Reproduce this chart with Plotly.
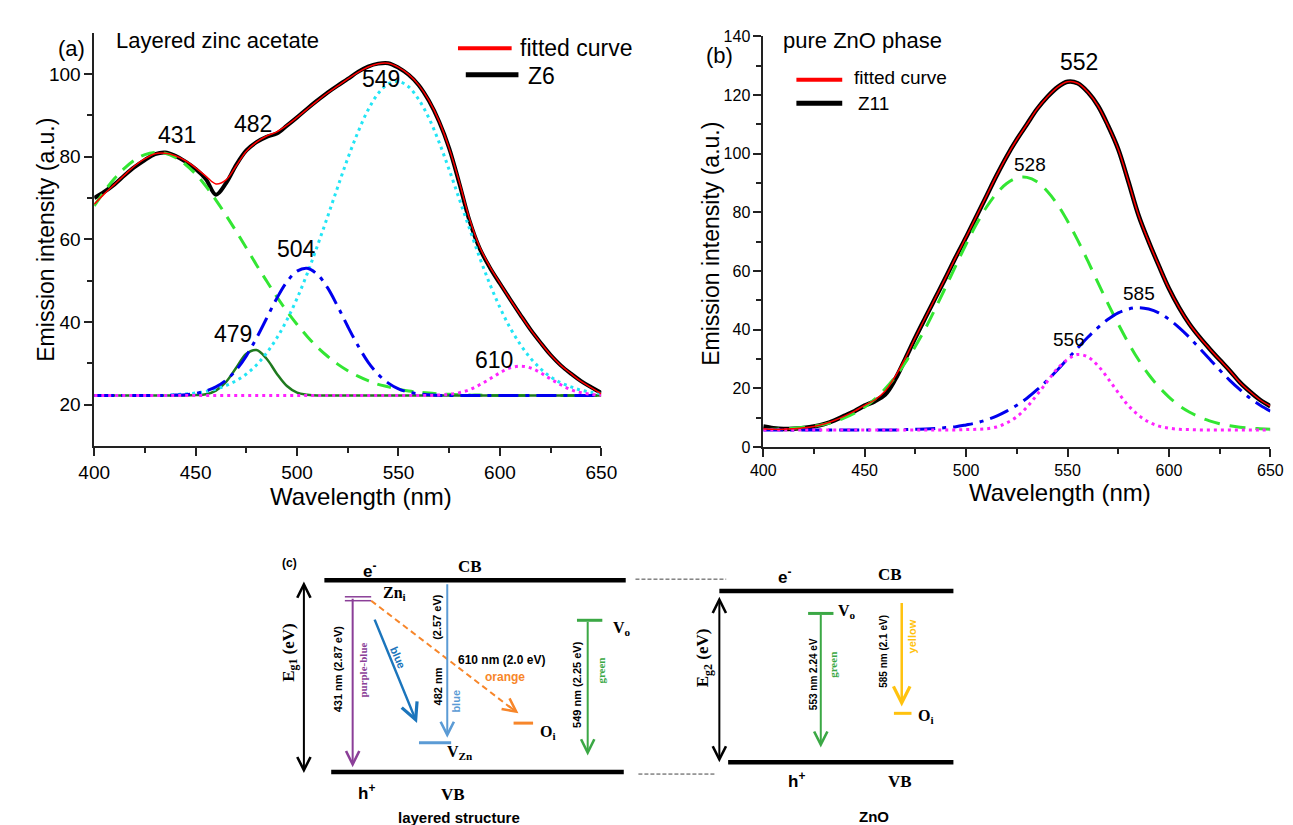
import plotly.graph_objects as go

W, H = 1293, 825
SANS = "Liberation Sans, Arial, sans-serif"
SERIF = "Liberation Serif, Times New Roman, serif"

# wavelength grid (nm)
wl = [400, 405, 410, 415, 420, 425, 430, 435, 440, 445,
      450, 455, 460, 465, 470, 475, 480, 485, 490, 495,
      500, 505, 510, 515, 520, 525, 530, 535, 540, 545,
      550, 555, 560, 565, 570, 575, 580, 585, 590, 595,
      600, 605, 610, 615, 620, 625, 630, 635, 640, 645, 650]

# (a) layered zinc acetate, sample Z6
z6 = [70.0, 71.5, 73.3, 75.5, 77.5, 79.2, 80.6, 81.0, 80.2, 78.8,
      77.0, 74.6, 70.8, 73.6, 78.0, 81.5, 83.5, 84.8, 85.6, 87.5,
      89.5, 91.6, 93.6, 95.5, 97.2, 98.8, 100.5, 101.8, 102.5, 102.6,
      101.5, 99.8, 97.3, 93.5, 88.5, 82.0, 73.5, 64.5, 57.8, 53.2,
      49.3, 45.5, 41.8, 38.2, 35.0, 32.0, 29.5, 27.5, 25.7, 24.2, 22.8]
fit_a = [68.5, 71.0, 73.3, 75.6, 77.8, 79.5, 80.7, 80.8, 80.2, 79.0,
         77.3, 75.3, 73.4, 74.4, 77.8, 81.3, 83.5, 85.0, 86.0, 87.6,
         89.5, 91.5, 93.5, 95.4, 97.1, 98.8, 100.4, 101.7, 102.5, 102.6,
         101.6, 99.9, 97.3, 93.6, 88.6, 82.0, 73.8, 65.0, 58.2, 53.4,
         49.4, 45.5, 41.8, 38.2, 35.0, 32.0, 29.5, 27.5, 25.6, 24.1, 22.6]
peak_431 = [68.1, 71.6, 74.7, 77.2, 79.2, 80.5, 81.0, 80.8, 79.8, 78.1,
            75.8, 72.9, 69.5, 65.8, 61.9, 57.9, 53.8, 49.9, 46.1, 42.6,
            39.4, 36.5, 33.9, 31.7, 29.8, 28.2, 26.9, 25.8, 24.9, 24.3,
            23.7, 23.3, 23.0, 22.8, 22.6, 22.5, 22.4, 22.3, 22.3, 22.2,
            22.2, 22.2, 22.2, 22.2, 22.2, 22.2, 22.2, 22.2, 22.2, 22.2, 22.2]
peak_479 = [22.2, 22.2, 22.2, 22.2, 22.2, 22.2, 22.2, 22.2, 22.2, 22.2,
            22.3, 22.5, 23.4, 25.5, 28.9, 32.3, 33.2, 31.1, 27.5, 24.5,
            22.9, 22.4, 22.2, 22.2, 22.2, 22.2, 22.2, 22.2, 22.2, 22.2,
            22.2, 22.2, 22.2, 22.2, 22.2, 22.2, 22.2, 22.2, 22.2, 22.2,
            22.2, 22.2, 22.2, 22.2, 22.2, 22.2, 22.2, 22.2, 22.2, 22.2, 22.2]
peak_504 = [22.2, 22.2, 22.2, 22.2, 22.2, 22.2, 22.2, 22.2, 22.3, 22.4,
            22.7, 23.3, 24.3, 25.9, 28.4, 31.8, 36.1, 40.9, 45.7, 49.7,
            52.3, 53.0, 51.5, 48.3, 43.8, 38.9, 34.3, 30.3, 27.3, 25.2,
            23.8, 23.0, 22.6, 22.4, 22.2, 22.2, 22.2, 22.2, 22.2, 22.2,
            22.2, 22.2, 22.2, 22.2, 22.2, 22.2, 22.2, 22.2, 22.2, 22.2, 22.2]
peak_549 = [22.2, 22.2, 22.2, 22.2, 22.2, 22.2, 22.2, 22.2, 22.4, 22.6,
            22.8, 23.2, 23.8, 24.6, 25.8, 27.4, 29.6, 32.5, 36.1, 40.5,
            45.7, 51.7, 58.4, 65.4, 72.6, 79.6, 85.9, 91.3, 95.3, 97.6,
            98.2, 96.9, 93.8, 89.3, 83.5, 76.8, 69.7, 62.6, 55.6, 49.2,
            43.5, 38.6, 34.6, 31.3, 28.7, 26.7, 25.3, 24.3, 23.5, 23.0, 22.7]
peak_610 = [22.2, 22.2, 22.2, 22.2, 22.2, 22.2, 22.2, 22.2, 22.2, 22.2,
            22.2, 22.2, 22.2, 22.2, 22.2, 22.2, 22.2, 22.2, 22.2, 22.2,
            22.2, 22.2, 22.2, 22.2, 22.2, 22.2, 22.2, 22.2, 22.2, 22.2,
            22.2, 22.2, 22.2, 22.2, 22.3, 22.5, 22.9, 23.6, 24.8, 26.2,
            27.7, 28.9, 29.3, 28.9, 27.7, 26.2, 24.8, 23.6, 22.9, 22.5, 22.3]

# (b) pure ZnO phase, sample Z11
z11 = [7.0, 6.4, 6.1, 6.2, 6.5, 7.0, 7.8, 9.0, 10.6, 12.2,
       14.1, 15.6, 17.8, 23.0, 30.0, 37.3, 44.2, 51.0, 57.8, 64.8,
       71.5, 78.5, 85.5, 92.5, 99.0, 104.8, 110.0, 115.2, 119.3, 122.6,
       124.5, 124.0, 121.0, 116.3, 109.5, 101.5, 90.5, 79.0, 70.0, 61.8,
       54.0, 47.5, 42.0, 37.5, 33.5, 29.7, 26.0, 22.0, 18.8, 16.0, 13.9]
fit_b = [6.2, 6.0, 6.0, 6.2, 6.5, 7.0, 7.8, 9.0, 10.5, 12.2,
         14.2, 16.0, 19.0, 24.0, 30.2, 37.3, 44.2, 51.0, 57.8, 64.8,
         71.5, 78.5, 85.5, 92.5, 99.0, 104.8, 110.0, 115.2, 119.3, 122.6,
         124.5, 124.0, 121.0, 116.3, 109.5, 101.5, 90.5, 79.0, 70.0, 61.8,
         54.0, 47.5, 42.0, 37.5, 33.5, 29.7, 26.0, 22.0, 18.8, 16.0, 13.9]
peak_528 = [5.9, 6.0, 6.2, 6.4, 6.7, 7.1, 7.7, 8.6, 9.9, 11.5,
            13.6, 16.3, 19.7, 23.8, 28.7, 34.3, 40.5, 47.4, 54.6, 61.9,
            69.1, 75.8, 81.7, 86.4, 89.8, 91.7, 91.9, 90.4, 87.2, 82.7,
            77.0, 70.5, 63.4, 56.0, 48.8, 41.9, 35.5, 29.7, 24.7, 20.5,
            17.0, 14.1, 11.9, 10.2, 8.9, 7.9, 7.2, 6.7, 6.4, 6.2, 6.0]
peak_585 = [5.8, 5.8, 5.8, 5.8, 5.8, 5.8, 5.8, 5.8, 5.8, 5.8,
            5.8, 5.8, 5.8, 5.8, 5.9, 6.0, 6.1, 6.3, 6.6, 6.9,
            7.5, 8.2, 9.2, 10.5, 12.2, 14.2, 16.6, 19.5, 22.7, 26.2,
            30.0, 33.7, 37.4, 40.7, 43.5, 45.7, 47.0, 47.5, 47.0, 45.7,
            43.5, 40.7, 37.4, 33.7, 30.0, 26.2, 22.7, 19.5, 16.6, 14.2, 12.2]
peak_556 = [5.8, 5.8, 5.8, 5.8, 5.8, 5.8, 5.8, 5.8, 5.8, 5.8,
            5.8, 5.8, 5.8, 5.8, 5.8, 5.8, 5.8, 5.8, 5.8, 5.8,
            5.9, 6.0, 6.2, 6.8, 8.2, 10.3, 13.6, 17.8, 22.3, 26.7,
            29.8, 31.5, 30.7, 27.7, 23.3, 18.5, 14.1, 10.8, 8.5, 7.1,
            6.4, 6.0, 5.9, 5.8, 5.8, 5.8, 5.8, 5.8, 5.8, 5.8, 5.8]


def px(x):
    return x / W


def py(y):
    return 1 - y / H


shapes = []
annots = []


def seg(x0, y0, x1, y1, color, width, dash="solid"):
    shapes.append(dict(type="line", xref="paper", yref="paper",
                       x0=px(x0), y0=py(y0), x1=px(x1), y1=py(y1),
                       line=dict(color=color, width=width, dash=dash)))


def txt(x, y, s, size, color="black", family=SANS, angle=0, xanchor="center", data=None):
    if data:
        xr, yr = data
    else:
        xr, yr = "paper", "paper"
        x, y = px(x), py(y)
    annots.append(dict(x=x, y=y, xref=xr, yref=yr, text=s, showarrow=False,
                       textangle=angle, xanchor=xanchor, yanchor="middle",
                       font=dict(size=size, color=color, family=family)))


def arrow(x0, y0, x1, y1, color, width, both=False, size=1.3):
    annots.append(dict(x=px(x1), y=py(y1), xref="paper", yref="paper",
                       ax=x0 - x1, ay=y0 - y1, axref="pixel", ayref="pixel",
                       text="", showarrow=True, arrowhead=5, arrowsize=size,
                       startarrowhead=5, startarrowsize=size,
                       arrowside="end+start" if both else "end",
                       arrowwidth=width, arrowcolor=color, standoff=0, startstandoff=0))


fig = go.Figure()


def add(x, y, color, width, dash, xa, ya):
    fig.add_trace(go.Scatter(x=x, y=y, mode="lines", line=dict(color=color, width=width, dash=dash, shape="spline"),
                             xaxis=xa, yaxis=ya, showlegend=False, hoverinfo="skip"))


# ---- panel (a)
add(wl, z6, "black", 4, "solid", "x", "y")
add(wl, peak_431, "#33e633", 3, "14px,9px", "x", "y")
add(wl, peak_479, "#1f7a1f", 2.5, "solid", "x", "y")
add(wl, peak_549, "#22e5f5", 3, "3px,4px", "x", "y")
add(wl, peak_504, "#0000ee", 3, "20px,7px,4px,7px", "x", "y")
add(wl, peak_610, "#ff22ff", 3, "3px,4px", "x", "y")
add(wl, fit_a, "#ff0000", 1.5, "solid", "x", "y")

# ---- panel (b)
add(wl, z11, "black", 4.5, "solid", "x2", "y2")
add(wl, peak_528, "#33e633", 3, "16px,10px", "x2", "y2")
add(wl, peak_585, "#0000ee", 3, "20px,7px,4px,7px", "x2", "y2")
add(wl, peak_556, "#ff22ff", 3, "3px,4px", "x2", "y2")
add(wl, fit_b, "#ff0000", 1.5, "solid", "x2", "y2")

# peak labels
for s, x, y in [("431", 441, 85.2), ("482", 478.4, 87.9), ("549", 541.3, 98.8),
                ("504", 499.5, 57.6), ("479", 468.6, 37.1), ("610", 597, 30.7)]:
    txt(x, y, s, 23, data=("x", "y"))
txt(555.8, 131.2, "552", 23, data=("x2", "y2"))
for s, x, y in [("528", 531.7, 96.2), ("585", 585.3, 52.4), ("556", 550.7, 36.7)]:
    txt(x, y, s, 19, data=("x2", "y2"))

# panel titles, legends
txt(49, 33, "(a)", 22)
txt(198, 25, "Layered zinc acetate", 22)
seg(445, 33, 500, 33, "#ff0000", 4)
txt(507, 33, "fitted curve", 23, xanchor="left")
seg(453, 60, 507, 60, "black", 5)
txt(515, 61, "Z6", 23, xanchor="left")

txt(713, 40, "(b)", 22)
txt(860, 25, "pure ZnO phase", 22)
seg(792, 65, 839, 65, "#ff0000", 4)
txt(849, 63, "fitted curve", 19, xanchor="left")
seg(792, 89, 839, 89, "black", 5)
txt(853, 89, "Z11", 19, xanchor="left")

# axis titles
txt(346, 491, "Wavelength (nm)", 24)
txt(23, 228, "Emission intensity (a.u.)", 23, angle=-90)
txt(1062, 487, "Wavelength (nm)", 24)
txt(705, 233, "Emission intensity (a.u.)", 23, angle=-90)

# ---- panel (c): band diagrams
PURPLE, DBLUE, LBLUE = "#8b3f98", "#1b75bc", "#5b9bd5"
ORANGE, GREEN, YELLOW = "#f7862a", "#3ba845", "#ffc20e"

txt(272, 558, "<b>(c)</b>", 12)
# layered structure
seg(308, 576, 617, 576, "black", 4.5)
seg(315, 772, 615, 772, "black", 4.5)
seg(627, 575, 720, 575, "#444", 1, "4px,2px")
seg(630, 774, 710, 774, "#444", 1, "4px,2px")
txt(354, 566, "<b>e<sup>-</sup></b>", 17)
txt(457, 562, "<b>CB</b>", 17, family=SERIF)
txt(351, 792, "<b>h<sup>+</sup></b>", 17)
txt(440, 795, "<b>VB</b>", 17, family=SERIF)
txt(446, 818, "<b>layered structure</b>", 15)
arrow(287, 580, 287, 773, "black", 2, both=True)
txt(272, 650, "<b>E<sub>g1</sub> (eV)</b>", 17, family=SERIF, angle=-90)

seg(329, 593, 356, 593, PURPLE, 1.5)
seg(329, 597, 356, 597, PURPLE, 1.5)
txt(380, 590, "<b>Zn<sub>i</sub></b>", 16, family=SERIF)
arrow(337, 597, 337, 767, PURPLE, 2)
txt(322, 667, "<b>431 nm (2.87 eV)</b>", 11, angle=-90)
txt(348, 668, "<b>purple-blue</b>", 11, color=PURPLE, family=SERIF, angle=-90)

arrow(360, 617, 403, 722, DBLUE, 2.5)
txt(384, 655, "<b>blue</b>", 11, color=DBLUE, angle=67)

seg(356, 597, 500, 707, ORANGE, 2, "6px,4px")
arrow(495, 703, 507, 712, ORANGE, 2)
txt(490, 658, "<b>610 nm (2.0 eV)</b>", 12)
txt(493, 675, "<b>orange</b>", 12, color=ORANGE)
seg(502, 722, 522, 722, ORANGE, 3)
txt(537, 732, "<b>O<sub>i</sub></b>", 16, family=SERIF)

arrow(434, 582, 434, 737, LBLUE, 2)
txt(424, 614, "<b>(2.57 eV)</b>", 11, angle=-90)
txt(424, 685, "<b>482 nm</b>", 11, angle=-90)
txt(443, 700, "<b>blue</b>", 11, color=LBLUE, angle=-90)
seg(405, 742, 438, 742, LBLUE, 3)
txt(447, 752, "<b>V<sub>Zn</sub></b>", 16, family=SERIF)

seg(567, 617, 593, 617, GREEN, 3)
txt(613, 625, "<b>V<sub>o</sub></b>", 16, family=SERIF)
arrow(578, 620, 578, 755, GREEN, 2)
txt(567, 682, "<b>549 nm (2.25 eV)</b>", 11, angle=-90)
txt(592, 668, "<b>green</b>", 11, color=GREEN, family=SERIF, angle=-90)

# ZnO
seg(713, 587, 953, 587, "black", 4.5)
seg(722, 762, 953, 762, "black", 4.5)
txt(780, 572, "<b>e<sup>-</sup></b>", 17)
txt(888, 570, "<b>CB</b>", 17, family=SERIF)
txt(792, 780, "<b>h<sup>+</sup></b>", 17)
txt(898, 782, "<b>VB</b>", 17, family=SERIF)
txt(872, 817, "<b>ZnO</b>", 15)
arrow(713, 595, 713, 762, "black", 2, both=True)
txt(697, 655, "<b>E<sub>g2</sub> (eV)</b>", 17, family=SERIF, angle=-90)

seg(804, 610, 830, 610, GREEN, 3)
txt(844, 608, "<b>V<sub>o</sub></b>", 16, family=SERIF)
arrow(817, 613, 817, 747, GREEN, 2)
txt(809, 672, "<b>553 nm 2.24 eV</b>", 10, angle=-90)
txt(830, 662, "<b>green</b>", 11, color=GREEN, family=SERIF, angle=-90)

arrow(900, 600, 900, 705, YELLOW, 2.5)
txt(881, 649, "<b>585 nm (2.1 eV)</b>", 10, angle=-90)
txt(911, 633, "<b>yellow</b>", 11, color=YELLOW, angle=-90)
seg(892, 712, 910, 712, YELLOW, 3)
txt(925, 715, "<b>O<sub>i</sub></b>", 16, family=SERIF)

axis_common = dict(showgrid=False, zeroline=False, showline=True, linecolor="#222", linewidth=1.5,
                   ticks="outside", ticklen=8, tickwidth=1.5, tickcolor="#222", mirror=False)
minor_x = dict(tickvals=[425, 475, 525, 575, 625], ticks="outside", ticklen=5, tickwidth=1.5, tickcolor="#222")

fig.update_layout(
    width=W, height=H, margin=dict(l=0, r=0, t=0, b=0), autosize=False,
    paper_bgcolor="white", plot_bgcolor="white", showlegend=False,
    font=dict(family=SANS, color="black"),
    xaxis=dict(domain=[px(72), px(592)], range=[400, 650], tickvals=[400, 450, 500, 550, 600, 650],
               minor=minor_x, tickfont=dict(size=19), anchor="y", **axis_common),
    yaxis=dict(domain=[py(439), py(17)], range=[10, 110], tickvals=[20, 40, 60, 80, 100],
               minor=dict(tickvals=[30, 50, 70, 90], ticks="outside", ticklen=5, tickwidth=1.5, tickcolor="#222"),
               tickfont=dict(size=19), anchor="x", **axis_common),
    xaxis2=dict(domain=[px(758), px(1278)], range=[400, 650], tickvals=[400, 450, 500, 550, 600, 650],
                minor=minor_x, tickfont=dict(size=16), anchor="y2", **axis_common),
    yaxis2=dict(domain=[py(440), py(20.7)], range=[0, 140], tickvals=[0, 20, 40, 60, 80, 100, 120, 140],
                minor=dict(tickvals=[10, 30, 50, 70, 90, 110, 130], ticks="outside", ticklen=5, tickwidth=1.5, tickcolor="#222"),
                tickfont=dict(size=16), anchor="x2", **axis_common),
    shapes=shapes, annotations=annots,
)

fig.write_html("out.html")
